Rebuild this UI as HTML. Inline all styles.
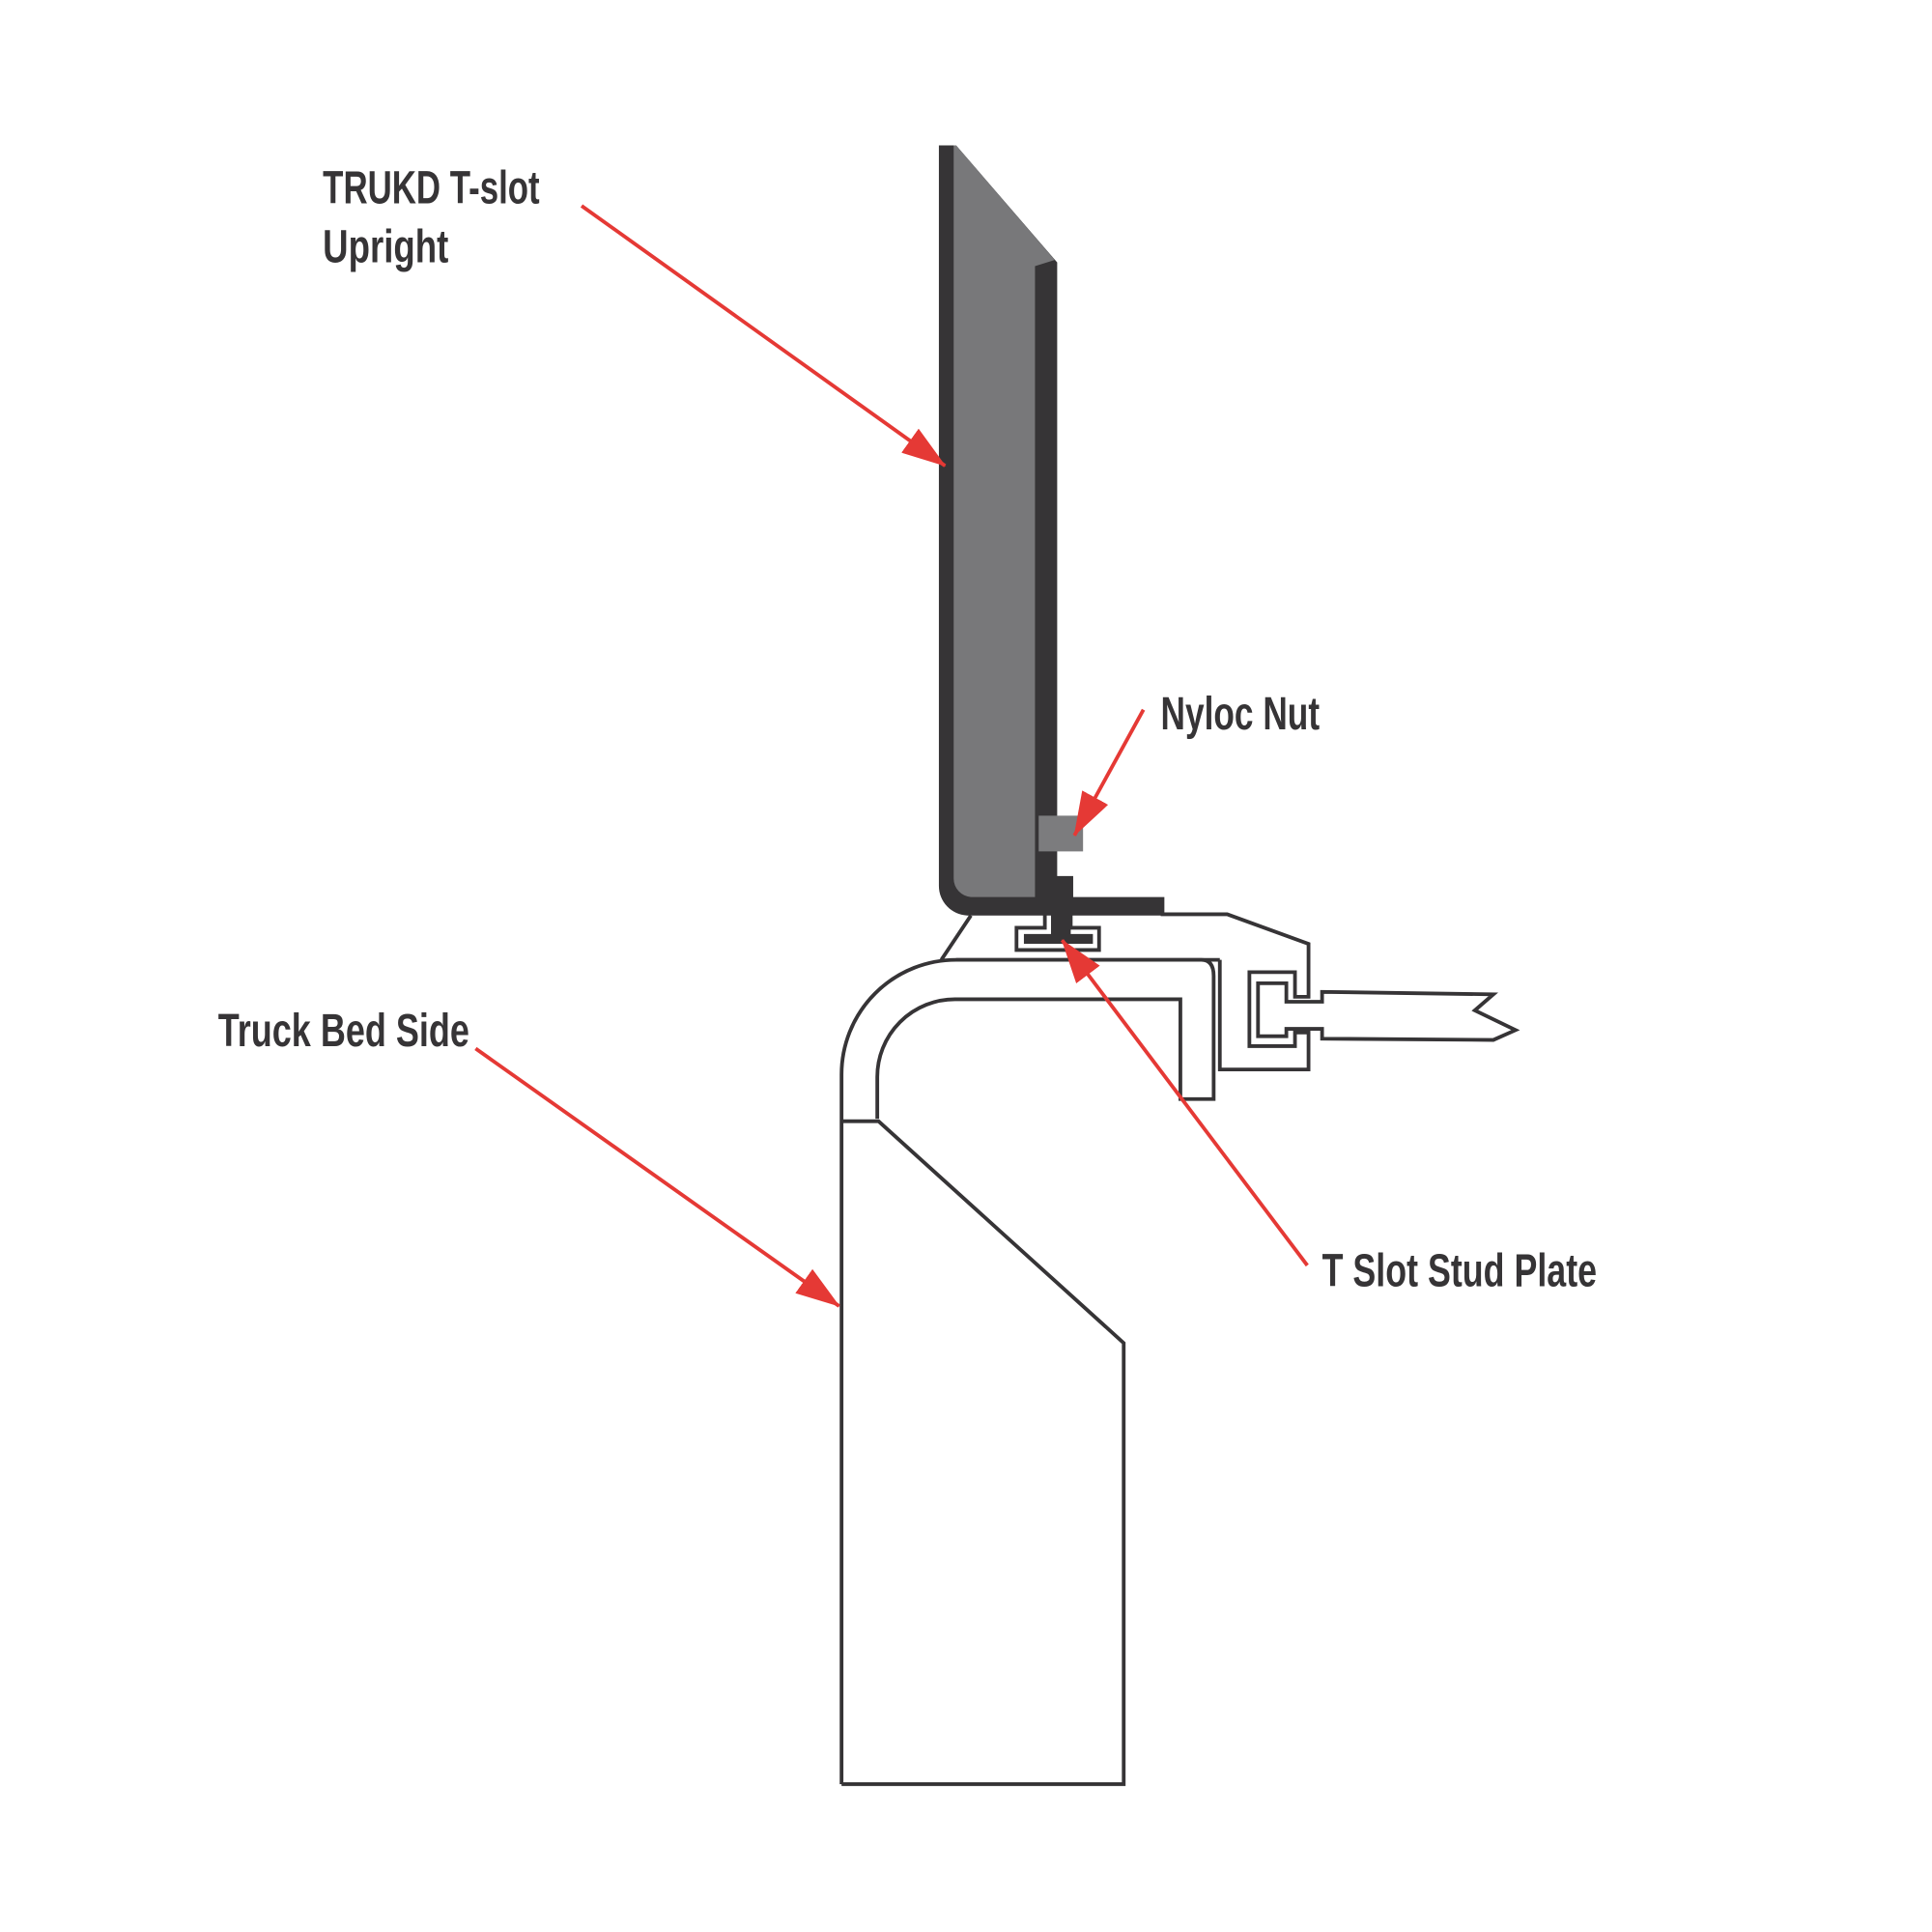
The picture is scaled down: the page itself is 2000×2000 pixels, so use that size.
<!DOCTYPE html>
<html><head><meta charset="utf-8"><style>html,body{margin:0;padding:0;background:#fff}svg{display:block}</style></head>
<body>
<svg width="2000" height="2000" viewBox="0 0 1568 1568" xmlns="http://www.w3.org/2000/svg">
<defs>
<marker id="a" viewBox="0 0 36 24" refX="35" refY="12" markerWidth="36" markerHeight="24" orient="auto" markerUnits="userSpaceOnUse"><path d="M0,0 L36,12 L0,24 Z" fill="#e53935"/></marker></defs>
<g fill="none" stroke="#363436" stroke-width="3" stroke-linejoin="miter">
<path d="M683,1448 L683,872 A93,93 0 0 1 776,779 L990,779"/>
<path d="M776,779 L975,779 Q985,779 985,792 L985,892 L958,892 L958,811 L775,811 A63,63 0 0 0 712,874 L712,908"/>
<path d="M683,910 L713,910 L912,1090 L912,1448 L683,1448"/>
<path d="M764,779 L788,743"/>
<path d="M942,742 L996,742 L1062,766 L1062,809 L1051,809 L1051,789 L1014,789 L1014,849 L1051,849 L1051,838 L1062,838 L1062,868 L990,868 L990,779"/>
<path d="M1073,805 L1073,813 L1044,813 L1044,798 L1021,798 L1021,841 L1044,841 L1044,835 L1073,835 L1073,843 L1212,844 L1230,836 L1197,820 L1212,807 Z"/>
<path d="M848,742 L848,753 L825,753 L825,771 L892,771 L892,753 L869,753 L869,742"/>
</g>
<path d="M762,118 L776,118 L858,213 L858,711 L871,711 L871,728 L945,728 L945,743 L785,743 A24,24 0 0 1 762,719 Z" fill="#363436"/>
<path d="M776,118 L856,211 L840,216 L840,728 L788,728 A15,15 0 0 1 774,713 L774,118 Z" fill="#78787a"/>
<path d="M853,742 L853,758 L831,758 L831,766 L887,766 L887,758 L869,758 L869,742 Z" fill="#363436"/>
<rect x="843" y="662" width="36" height="29" fill="#7c7c7e"/>
<g stroke="#e53935" stroke-width="3" fill="none">
<line x1="472" y1="167" x2="767" y2="378" marker-end="url(#a)"/>
<line x1="928" y1="576" x2="872" y2="678" marker-end="url(#a)"/>
<line x1="386" y1="851" x2="681" y2="1060" marker-end="url(#a)"/>
<line x1="1061" y1="1027" x2="862" y2="763" marker-end="url(#a)"/>
</g>
<g fill="#363436" font-family="'Liberation Sans Narrow','Liberation Sans',sans-serif" font-weight="bold" font-size="38">
<text x="262" y="165" textLength="176" lengthAdjust="spacingAndGlyphs">TRUKD T-slot</text>
<text x="262" y="213" textLength="102" lengthAdjust="spacingAndGlyphs">Upright</text>
<text x="942" y="592" textLength="129" lengthAdjust="spacingAndGlyphs">Nyloc Nut</text>
<text x="177" y="849" textLength="204" lengthAdjust="spacingAndGlyphs">Truck Bed Side</text>
<text x="1073" y="1044" textLength="223" lengthAdjust="spacingAndGlyphs">T Slot Stud Plate</text>
</g>
</svg>
</body></html>
